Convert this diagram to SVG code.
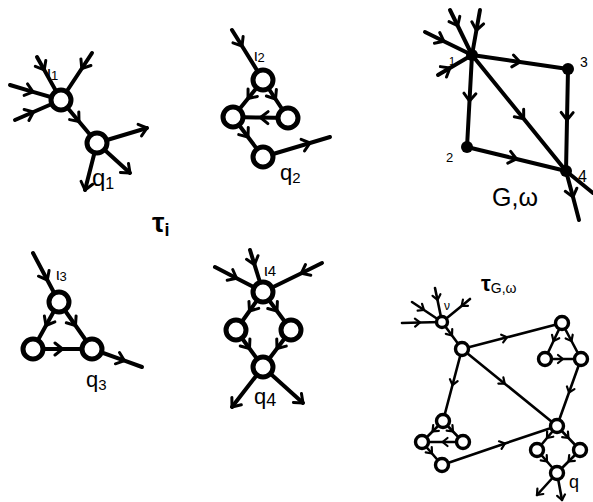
<svg xmlns="http://www.w3.org/2000/svg" width="593" height="502" viewBox="0 0 593 502">
<style>
.e{fill:none;stroke:#000;stroke-width:4;stroke-linecap:round;stroke-linejoin:round}
.es{fill:none;stroke:#000;stroke-width:2.6;stroke-linecap:round;stroke-linejoin:round}
.c{fill:#fff;stroke:#000;stroke-width:5}
.cs{fill:#fff;stroke:#000;stroke-width:3.4}
.d{fill:#000}
.t{font-family:"Liberation Sans",Arial,sans-serif;fill:#000}
</style>
<defs>
<marker id="a" viewBox="-10 -10 20 20" markerWidth="20" markerHeight="20" markerUnits="userSpaceOnUse" orient="auto">
<path d="M-7.5,-6 L0,0 L-7.5,6" fill="none" stroke="#000" stroke-width="3" stroke-linecap="round" stroke-linejoin="round"/>
</marker>
<marker id="s" viewBox="-8 -8 16 16" markerWidth="16" markerHeight="16" markerUnits="userSpaceOnUse" orient="auto">
<path d="M-5,-4 L0,0 L-5,4" fill="none" stroke="#000" stroke-width="2.2" stroke-linecap="round" stroke-linejoin="round"/>
</marker>
</defs>

<g id="connectors">
<g class="e" marker-mid="url(#a)">
<path d="M37,57 L44.2,69.9 L61,100"/>
<path d="M92,53 L81.8,68.5 L61,100"/>
<path d="M10,85 L33,91.8 L61,100"/>
<path d="M15,120 L33.4,112 L61,100"/>
<path d="M61,100 L79,121.5 L97,143"/>
</g>
<g class="e" marker-end="url(#a)">
<path d="M97,143 L147,128"/>
<path d="M97,143 L130,173"/>
<path d="M97,143 L85,190"/>
</g>
<g class="e" marker-mid="url(#a)">
<path d="M232,30 L242,46 L263,80"/>
<path d="M263,80 L248,98.5 L233,117"/>
<path d="M263,80 L275.5,99 L288,118"/>
<path d="M288,118 L260.5,117.5 L233,117"/>
<path d="M233,117 L248,137 L263,157"/>
<path d="M263,157 L310,143 L330,137"/>
</g>
<g class="e" marker-mid="url(#a)">
<path d="M33,253 L47.3,280 L59,302"/>
<path d="M59,302 L46,325.5 L33,349"/>
<path d="M59,302 L75.5,325.5 L92,349"/>
<path d="M33,349 L62.5,349 L92,349"/>
<path d="M92,349 L124.5,360.7 L142,367"/>
</g>
<g class="e" marker-mid="url(#a)">
<path d="M250,250 L254.5,264.7 L263,292"/>
<path d="M215,267 L236.6,278.3 L263,292"/>
<path d="M322,263 L301.4,273.2 L263,292"/>
<path d="M263,292 L249.5,311 L236,330"/>
<path d="M263,292 L277,311 L291,330"/>
<path d="M236,330 L249.5,348.5 L263,367"/>
<path d="M291,330 L277,348.5 L263,367"/>
</g>
<g class="e" marker-end="url(#a)">
<path d="M263,367 L232,407"/>
<path d="M263,367 L303,403"/>
</g>
<g class="e" marker-mid="url(#a)">
<path d="M450,10 L457.7,25.75 L472,55"/>
<path d="M480,10 L476.4,30.25 L472,55"/>
<path d="M425,32 L443.8,41.2 L472,55"/>
<path d="M438,75 L449.9,68 L472,55"/>
<path d="M472,55 L520,62 L568,69"/>
<path d="M472,55 L469.5,101 L467,147"/>
<path d="M472,55 L523.7,118.8 L566,171"/>
<path d="M568,69 L567,120 L566,171"/>
<path d="M467,147 L516.5,159 L566,171"/>
<path d="M566,171 L573,197 L579,220"/>
</g>
<path class="e" d="M566,171 L593,193"/>
<g class="es" marker-mid="url(#s)">
<path d="M435,288 L437.5,299.9 L442,322"/>
<path d="M412,302 L424,310 L442,322"/>
<path d="M402,323 L420,322.5 L442,322"/>
<path d="M470,299 L461.6,305.9 L442,322"/>
<path d="M442,322 L452,335.5 L462,349"/>
<path d="M462,349 L507,337.3 L562,323"/>
<path d="M462,349 L452.5,385 L443,421"/>
<path d="M462,349 L504.75,383.65 L557,426"/>
<path d="M581,359 L569,392.5 L557,426"/>
<path d="M442,465 L505,443.5 L557,426"/>
<path d="M562,323 L553.5,341 L545,359"/>
<path d="M562,323 L571.5,341 L581,359"/>
<path d="M545,359 L563,359 L581,359"/>
<path d="M443,421 L432.5,431.5 L422,442"/>
<path d="M443,421 L453,431.5 L463,442"/>
<path d="M463,442 L442.5,442 L422,442"/>
<path d="M422,442 L432,453.5 L442,465"/>
<path d="M557,426 L547,438 L537,450"/>
<path d="M557,426 L568.5,438 L580,450"/>
<path d="M537,450 L547,461.5 L557,473"/>
<path d="M580,450 L568.5,461.5 L557,473"/>
</g>
<g class="es" marker-end="url(#s)">
<path d="M557,473 L537,495"/>
<path d="M557,473 L562,500"/>
</g>
</g>

<g id="g1-in"><circle class="c" cx="61" cy="100" r="10"/></g>
<g id="g1-out"><circle class="c" cx="97" cy="143" r="10"/></g>

<g id="g2-top"><circle class="c" cx="263" cy="80" r="10"/></g>
<g id="g2-left"><circle class="c" cx="233" cy="117" r="10"/></g>
<g id="g2-right"><circle class="c" cx="288" cy="118" r="10"/></g>
<g id="g2-bottom"><circle class="c" cx="263" cy="157" r="10"/></g>

<g id="g3-top"><circle class="c" cx="59" cy="302" r="10"/></g>
<g id="g3-left"><circle class="c" cx="33" cy="349" r="10"/></g>
<g id="g3-right"><circle class="c" cx="92" cy="349" r="10"/></g>

<g id="g4-top"><circle class="c" cx="263" cy="292" r="10"/></g>
<g id="g4-left"><circle class="c" cx="236" cy="330" r="10"/></g>
<g id="g4-right"><circle class="c" cx="291" cy="330" r="10"/></g>
<g id="g4-bottom"><circle class="c" cx="263" cy="367" r="10"/></g>

<g id="v1"><circle class="d" cx="472" cy="55" r="6"/></g>
<g id="v3"><circle class="d" cx="568" cy="69" r="6"/></g>
<g id="v2"><circle class="d" cx="467" cy="147" r="6"/></g>
<g id="v4"><circle class="d" cx="566" cy="171" r="6"/></g>

<g id="t-s"><circle class="cs" cx="442" cy="322" r="5.5"/></g>
<g id="t-m"><circle class="cs" cx="462" cy="349" r="6.5"/></g>
<g id="t-rt-top"><circle class="cs" cx="562" cy="323" r="6.5"/></g>
<g id="t-rt-left"><circle class="cs" cx="545" cy="359" r="6.5"/></g>
<g id="t-rt-right"><circle class="cs" cx="581" cy="359" r="6.5"/></g>
<g id="t-lc-top"><circle class="cs" cx="443" cy="421" r="6.5"/></g>
<g id="t-lc-left"><circle class="cs" cx="422" cy="442" r="6.5"/></g>
<g id="t-lc-right"><circle class="cs" cx="463" cy="442" r="6.5"/></g>
<g id="t-lc-bottom"><circle class="cs" cx="442" cy="465" r="6.5"/></g>
<g id="t-rb-top"><circle class="cs" cx="557" cy="426" r="6.5"/></g>
<g id="t-rb-left"><circle class="cs" cx="537" cy="450" r="6.5"/></g>
<g id="t-rb-right"><circle class="cs" cx="580" cy="450" r="6.5"/></g>
<g id="t-rb-bottom"><circle class="cs" cx="557" cy="473" r="6.5"/></g>

<g id="labels" class="t">
<text x="47" y="79" font-size="18">ι<tspan font-size="13" dy="1">1</tspan></text>
<text x="92" y="186" font-size="24">q<tspan font-size="16" dy="3">1</tspan></text>
<text x="254" y="61" font-size="16">ι<tspan font-size="13" dy="1">2</tspan></text>
<text x="280" y="180" font-size="22">q<tspan font-size="15" dy="3">2</tspan></text>
<text x="56" y="280" font-size="16">ι<tspan font-size="13" dy="1">3</tspan></text>
<text x="86" y="387" font-size="22">q<tspan font-size="15" dy="3">3</tspan></text>
<text x="264" y="276" font-size="17">ι<tspan font-size="15" dy="0">4</tspan></text>
<text x="254" y="404" font-size="22">q<tspan font-size="18" dy="2">4</tspan></text>
<text x="152" y="232" font-size="28" font-weight="bold">τ<tspan font-size="18" dy="4">i</tspan></text>
<text x="449" y="65" font-size="11">1</text>
<text x="580" y="67" font-size="14">3</text>
<text x="446" y="162" font-size="13">2</text>
<text x="578" y="182" font-size="16">4</text>
<text x="492" y="206" font-size="25">G,ω</text>
<text x="481" y="291" font-size="22" font-weight="bold">τ<tspan font-size="14" font-weight="normal" dy="2">G,ω</tspan></text>
<text x="444" y="310" font-size="12">ν</text>
<text x="569" y="488" font-size="18">q</text>
</g>
</svg>
